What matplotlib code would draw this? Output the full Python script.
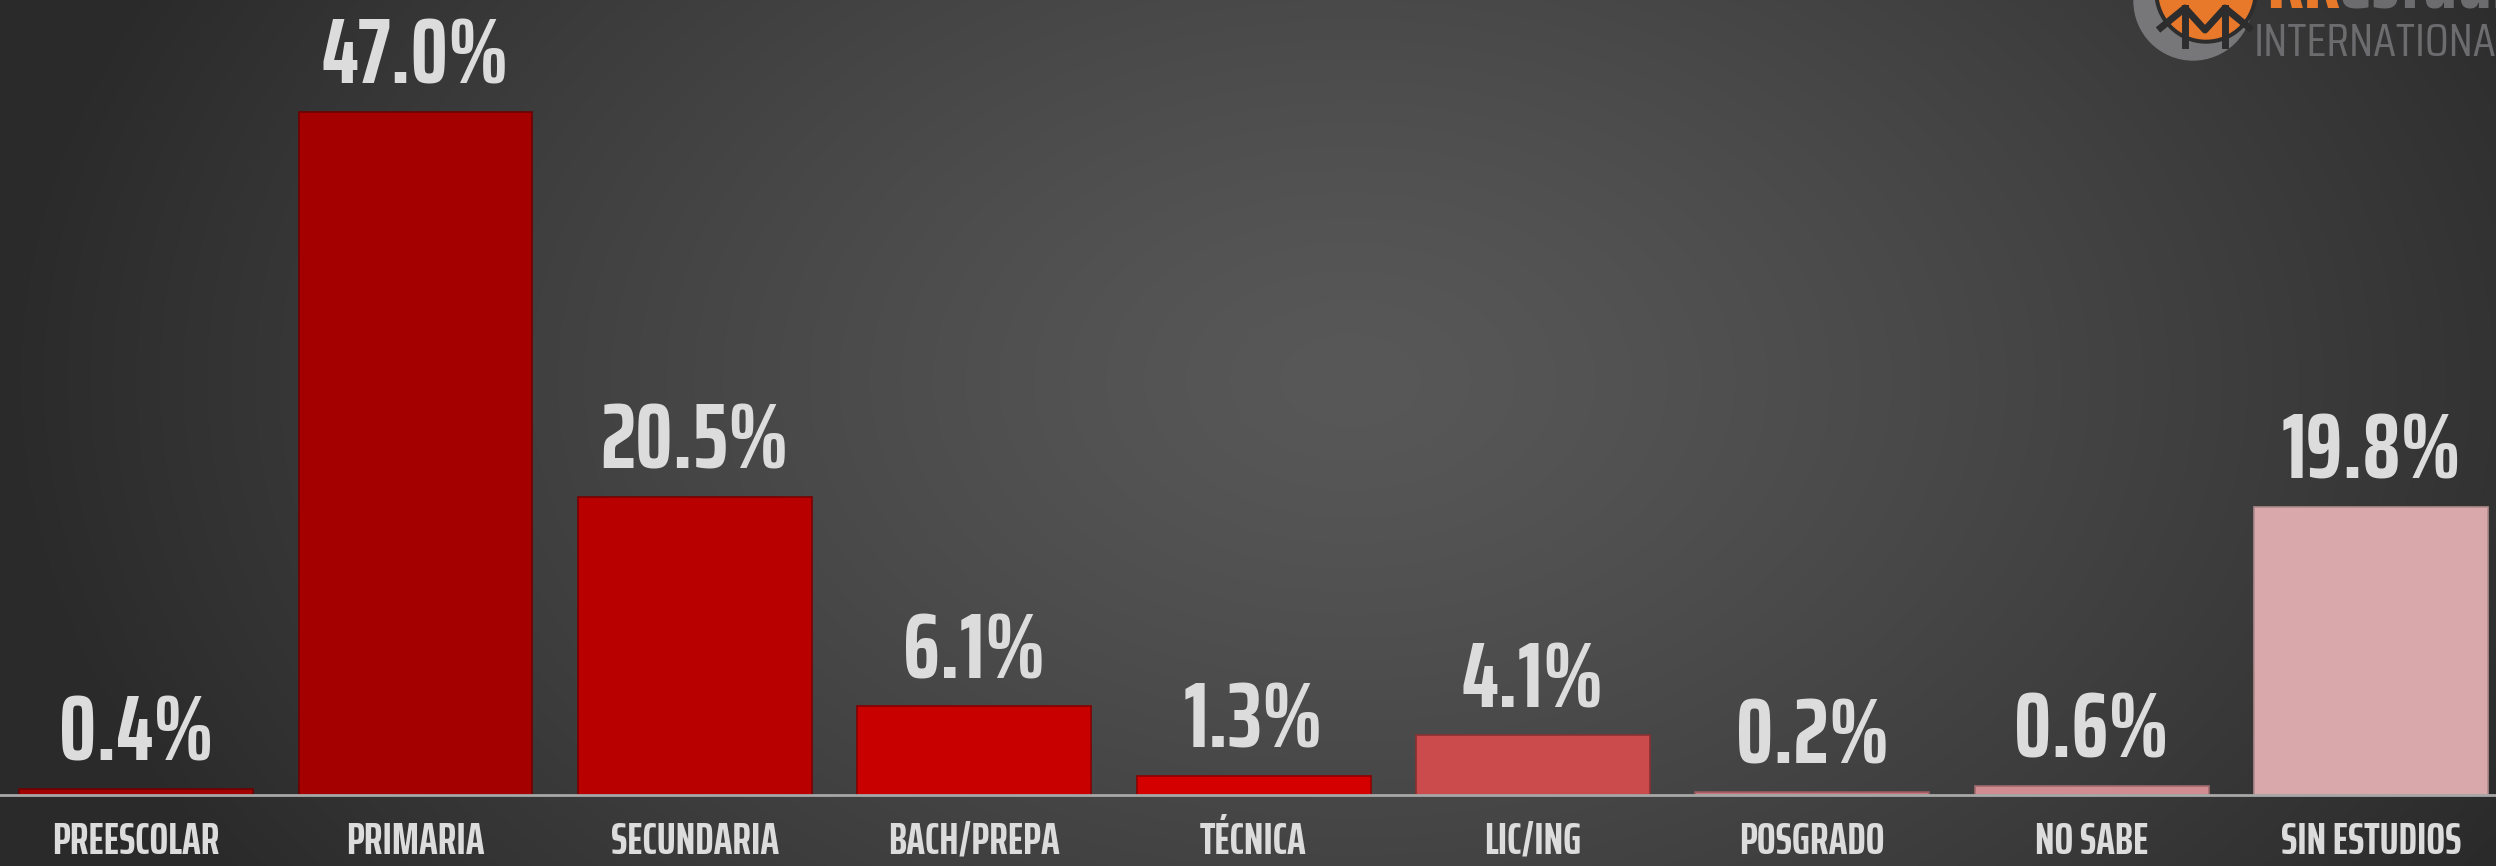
import numpy as np
import matplotlib.pyplot as plt
from matplotlib.patches import Circle

# data
categories = ["PREESCOLAR", "PRIMARIA", "SECUNDARIA", "BACH/PREPA", "TÉCNICA",
              "LIC/ING", "POSGRADO", "NO SABE", "SIN ESTUDIOS"]
values = [0.4, 47.0, 20.5, 6.1, 1.3, 4.1, 0.2, 0.6, 19.8]
bar_colors = ["#a30000", "#a50000", "#b80000", "#c80000", "#d40000",
              "#cb4a4c", "#c8787c", "#d08c90", "#d8a8aa"]
edge_colors = ["#6e0000", "#6e0000", "#7a0000", "#860000", "#8e0000",
               "#8a3032", "#9a5a5e", "#a06a6e", "#b08a8c"]

FONT = ["Saira ExtraCondensed", "DejaVu Sans"]
LOGO_FONT = ["Saira Condensed", "DejaVu Sans"]

W, H = 2496, 866
fig = plt.figure(figsize=(W / 100, H / 100), dpi=100)

# radial gradient background
bg = fig.add_axes([0, 0, 1, 1])
bg.set_axis_off()
yy, xx = np.mgrid[0:H, 0:W]
r = np.sqrt(((xx - 1350) / 1350.0) ** 2 + ((yy - 380) / 900.0) ** 2)
r = np.clip(r, 0, 1)
lum = 0.345 - (0.345 - 0.165) * r ** 1.3
bg.imshow(np.dstack([lum, lum, lum]), extent=[0, W, H, 0], aspect="auto")
bg.set_xlim(0, W)
bg.set_ylim(H, 0)

ax = fig.add_axes([0, 0, 1, 1])
ax.patch.set_alpha(0)
x = np.arange(len(categories))
ax.bar(x, values, width=0.837, color=bar_colors, edgecolor=edge_colors,
       linewidth=1.2, zorder=2)
ax.axhline(0, color="#a8a8a8", lw=2, zorder=3)
ax.set_xlim(-0.487, 8.447)
ax.set_ylim(-4.886, 54.71)
ax.set_axis_off()

for xi, v in zip(x, values):
    ax.text(xi, v + 1.95, f"{v:.1f}%", ha="center", va="baseline",
            fontsize=67, fontweight=700, color="#dcdcdc", family=FONT)
for xi, c in zip(x, categories):
    ax.text(xi, -3.22, c, ha="center", va="center", fontsize=32,
            fontweight=700, color="#dcdcdc", family=FONT)

# logo (top right, partly cut off)
bg.add_patch(Circle((2193, 1), 59, color="#77777a", zorder=3))
bg.add_patch(Circle((2206, -8), 51, color="#2d2d2d", zorder=4))
bg.add_patch(Circle((2206, -8), 47, color="#e8782a", zorder=5))
bg.plot([2158, 2185, 2205, 2225, 2252], [30, 8, 30, 8, 30], color="#2d2d2d",
        lw=5, zorder=6, solid_capstyle="butt")
bg.plot([2185, 2185], [8, 45], color="#2d2d2d", lw=5, zorder=6)
bg.plot([2225, 2225], [8, 45], color="#2d2d2d", lw=5, zorder=6)
bg.text(2254, 44, "INTERNATIONAL", ha="left", va="center", fontsize=33,
        color="#6c6c6e", family=LOGO_FONT, zorder=6)
bg.text(2266, 8, "RK", ha="left", va="baseline", fontsize=64, fontweight=700,
        color="#e8782a", family=FONT, zorder=6)
bg.text(2338, 8, "estudio", ha="left", va="baseline", fontsize=64,
        fontweight=700, color="#6c6c6e", family=FONT, zorder=6)

fig.savefig("out.png", dpi=100)
